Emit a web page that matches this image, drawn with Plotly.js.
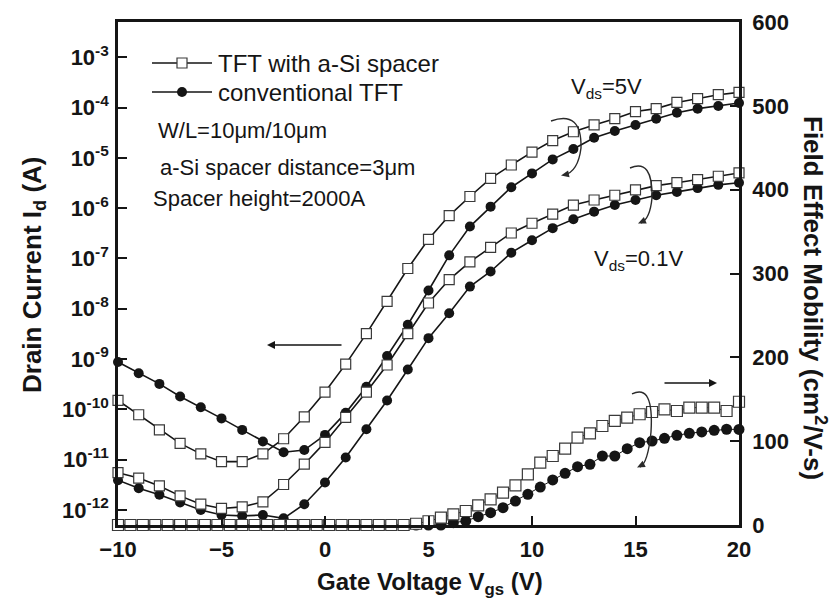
<!DOCTYPE html>
<html><head><meta charset="utf-8">
<script src="https://cdn.plot.ly/plotly-3.0.1.min.js"></script>
<style>html,body{margin:0;padding:0;background:#fff}</style>
</head><body><div id="chart" style="width:833px;height:607px"></div>
<script>
// Gate voltage grid for drain-current curves (V)
const vgsId = [-10,-9,-8,-7,-6,-5,-4,-3,-2,-1,0,1,2,3,4,5,6,7,8,9,10,11,12,13,14,15,16,17,18,19,20];
// Drain current (A), TFT with a-Si spacer, Vds = 5 V
const idSpacer5V = [1.5e-10,7.8e-11,3.9e-11,2.1e-11,1.3e-11,9.1e-12,9.1e-12,1.3e-11,2.6e-11,7.1e-11,2.2e-10,7.9e-10,3.2e-9,1.4e-8,6.3e-8,2.4e-7,7.1e-7,1.7e-6,3.9e-6,7.2e-6,1.3e-5,2.2e-5,3.3e-5,4.5e-5,6.0e-5,8.3e-5,9.5e-5,1.26e-4,1.5e-4,1.8e-4,2.0e-4];
// Drain current (A), conventional TFT, Vds = 5 V
const idConv5V = [8.7e-10,5.2e-10,3.2e-10,1.8e-10,1.1e-10,6.6e-11,3.9e-11,2.3e-11,1.4e-11,1.55e-11,3.1e-11,8.5e-11,2.8e-10,1.15e-9,4.8e-9,2.3e-8,1.15e-7,4.3e-7,1.07e-6,2.6e-6,4.9e-6,9.3e-6,1.5e-5,2.5e-5,3.4e-5,4.5e-5,6.0e-5,7.9e-5,9.5e-5,1.07e-4,1.23e-4];
// Drain current (A), TFT with a-Si spacer, Vds = 0.1 V
const idSpacer01V = [5.5e-12,4.3e-12,3.0e-12,1.9e-12,1.3e-12,1.07e-12,1.15e-12,1.45e-12,3.2e-12,8.1e-12,2.2e-11,6.9e-11,2.2e-10,7.6e-10,3.2e-9,1.3e-8,3.8e-8,8.5e-8,1.66e-7,3.2e-7,5.0e-7,7.6e-7,1.15e-6,1.45e-6,1.8e-6,2.3e-6,2.8e-6,3.2e-6,3.7e-6,4.3e-6,5.0e-6];
// Drain current (A), conventional TFT, Vds = 0.1 V
const idConv01V = [3.9e-12,2.7e-12,2.0e-12,1.4e-12,1.0e-12,7.9e-13,7.6e-13,7.9e-13,6.8e-13,1.3e-12,3.5e-12,1.1e-11,4.0e-11,1.5e-10,6.2e-10,2.6e-9,8.1e-9,2.75e-8,5.5e-8,1.3e-7,2.3e-7,4.0e-7,6.0e-7,8.5e-7,1.15e-6,1.45e-6,1.8e-6,2.1e-6,2.5e-6,2.9e-6,3.2e-6];

// Gate voltage grid for mobility curves (V)
const vgsMob = [-10,-9.4,-8.8,-8.2,-7.6,-7,-6.4,-5.8,-5.2,-4.6,-4,-3.4,-2.8,-2.2,-1.6,-1,-0.4,0.2,0.8,1.4,2,2.6,3.2,3.8,4.4,5,5.6,6.2,6.8,7.4,8,8.6,9.2,9.8,10.4,11,11.6,12.2,12.8,13.4,14,14.6,15.2,15.8,16.4,17,17.6,18.2,18.8,19.4,20];
// Field effect mobility (cm2/V-s)
const mobSpacer = [0,0,0,0,0,0,0,0,0,0,0,0,0,0,0,0,0,0,0,0,0,0,0,0,1.5,4.5,8.8,12.7,16.7,23.5,30.6,38.6,47.3,60.5,74.4,82.3,91.1,104.2,109.4,118.1,124.1,128.1,132.1,134.8,138,136,140,140,140,136,147];
const mobConv = [0,0,0,0,0,0,0,0,0,0,0,0,0,0,0,0,0,0,0,0,0,0,0,0,0,0,0,2.8,4.8,9.9,14.7,20.7,28.6,36.6,45.3,53.7,61.7,69.6,72.4,82.3,82.3,91.1,98.2,100.2,103.4,107,109.4,111,113,114.2,114];

// Axis ticks
const xTicks = [-10,-5,0,5,10,15,20];
const yTickVals = [1e-12,1e-11,1e-10,1e-9,1e-8,1e-7,1e-6,1e-5,1e-4,1e-3];
const yTickText = ['10<sup>-12</sup>','10<sup>-11</sup>','10<sup>-10</sup>','10<sup>-9</sup>','10<sup>-8</sup>','10<sup>-7</sup>','10<sup>-6</sup>','10<sup>-5</sup>','10<sup>-4</sup>','10<sup>-3</sup>'];
const y2Ticks = [0,100,200,300,400,500,600];

const seriesNames = ['TFT with a-Si spacer','conventional TFT'];

// ---- layout geometry (pixels) ----
const W = 833, H = 607;
const PL = 118, PR = 739, PT = 22, PB = 525;
const fx = x => (x - PL) / (PR - PL);
const fy = y => (PB - y) / (PB - PT);
const P = (x, y) => fx(x).toFixed(5) + ',' + fy(y).toFixed(5);

const FONT = 'Liberation Sans, Arial, Helvetica, sans-serif';
const INK = '#151515';

const sq = {symbol:'square', size:10, color:'#ffffff', line:{color:'#3a3a3a', width:1.2}};
const ci = {symbol:'circle', size:10, color:INK, line:{color:INK, width:0}};
const ln = {color:INK, width:1.6};

const traces = [
  {x:vgsId, y:idConv5V, mode:'lines+markers', line:ln, marker:ci, cliponaxis:false, name:seriesNames[1]},
  {x:vgsId, y:idSpacer5V, mode:'lines+markers', line:ln, marker:sq, cliponaxis:false, name:seriesNames[0]},
  {x:vgsId, y:idConv01V, mode:'lines+markers', line:ln, marker:ci, cliponaxis:false, name:seriesNames[1]},
  {x:vgsId, y:idSpacer01V, mode:'lines+markers', line:ln, marker:sq, cliponaxis:false, name:seriesNames[0]},
  {x:vgsMob, y:mobConv, yaxis:'y2', mode:'lines+markers', line:{color:INK,width:1}, marker:Object.assign({}, ci, {size:11}), cliponaxis:false, name:seriesNames[1]},
  {x:vgsMob, y:mobSpacer, yaxis:'y2', mode:'lines+markers', line:{color:INK,width:1}, marker:Object.assign({}, sq, {size:11}), cliponaxis:false, name:seriesNames[0]}
];

const tickFont = {family:FONT, size:22, weight:'bold', color:INK};
const axCommon = {showgrid:false, zeroline:false, showline:true, linecolor:INK, linewidth:2.6,
  ticks:'inside', ticklen:9, tickwidth:2.4, tickcolor:INK, tickfont:tickFont, automargin:false};

// arrowhead helper (filled triangle) in pixel space -> paper path
function head(tx, ty, dx, dy, len, hw) {
  const n = Math.hypot(dx, dy); const ux = dx / n, uy = dy / n;
  const bx = tx - ux * len, by = ty - uy * len;
  const px = -uy * hw, py = ux * hw;
  return 'M' + P(tx, ty) + 'L' + P(bx + px, by + py) + 'L' + P(bx - px, by - py) + 'Z';
}
function curl(x0, y0, c1x, c1y, mx, my, c2x, c2y, ex, ey) {
  return 'M' + P(x0, y0) + ' Q' + P(c1x, c1y) + ' ' + P(mx, my) + ' Q' + P(c2x, c2y) + ' ' + P(ex, ey);
}
const shapes = [];
const arcLine = {color:'#2a2a2a', width:1.4};
// curly arrows
[[551,121, 582,110, 581,148, 578,172, 564,175],
 [630,168, 653,158, 652,198, 650,219, 641,223],
 [632,394, 654,383, 651,432, 648,463, 640,467]].forEach(a => {
  shapes.push({type:'path', xref:'paper', yref:'paper', path:curl(...a), line:arcLine});
  const ex = a[8], ey = a[9], dx = a[8] - a[6], dy = a[9] - a[7];
  shapes.push({type:'path', xref:'paper', yref:'paper', path:head(ex - 3, ey + 0.5, dx, dy, 8, 3.5), fillcolor:'#2a2a2a', line:{width:0}});
});
// legend symbols
shapes.push({type:'line', xref:'paper', yref:'paper', x0:fx(152), x1:fx(212), y0:fy(63), y1:fy(63), line:{color:INK,width:1.6}});
shapes.push({type:'rect', xref:'paper', yref:'paper', x0:fx(177), x1:fx(187), y0:fy(58), y1:fy(68), fillcolor:'#fff', line:{color:'#3a3a3a',width:1.2}});
shapes.push({type:'line', xref:'paper', yref:'paper', x0:fx(152), x1:fx(212), y0:fy(92), y1:fy(92), line:{color:INK,width:1.6}});
shapes.push({type:'circle', xref:'paper', yref:'paper', x0:fx(177), x1:fx(187), y0:fy(87), y1:fy(97), fillcolor:INK, line:{color:INK,width:0}});

const txt = (text, x, y, size, extra) => Object.assign({
  text, xref:'paper', yref:'paper', x:fx(x), y:fy(y), xanchor:'left', yanchor:'middle',
  showarrow:false, font:{family:FONT, size, color:INK}
}, extra || {});
const bold = size => ({family:FONT, size, weight:'bold', color:INK});

const annotations = [
  txt(seriesNames[0], 216, 63, 24),
  txt(seriesNames[1], 216, 92, 24),
  txt('W/L=10μm/10μm', 156, 130, 22),
  txt('a-Si spacer distance=3μm', 158, 167, 22),
  txt('Spacer height=2000A', 151, 198, 22),
  txt('V<sub>ds</sub>=5V', 569, 88, 22),
  txt('V<sub>ds</sub>=0.1V', 592, 260, 22),
  // axis titles
  txt('Drain Current I<sub>d</sub> (A)', 33, 275, 26, {xanchor:'center', textangle:-90, font:bold(26)}),
  txt('Field Effect Mobility (cm<sup>2</sup>/V-s)', 815, 298, 26, {xanchor:'center', textangle:90, font:bold(26)}),
  txt('Gate Voltage V<sub>gs</sub> (V)', 430, 583, 24, {xanchor:'center', font:bold(24)}),
  // straight arrows
  {xref:'paper', yref:'paper', x:fx(267), y:fy(345), ax:76, ay:0, text:'', showarrow:true, arrowhead:2, arrowsize:1, arrowwidth:1.6, arrowcolor:INK},
  {xref:'paper', yref:'paper', x:fx(717), y:fy(383), ax:-54, ay:0, text:'', showarrow:true, arrowhead:2, arrowsize:1, arrowwidth:1.6, arrowcolor:INK}
];

const layout = {
  width:W, height:H, showlegend:false,
  paper_bgcolor:'#fff', plot_bgcolor:'#fff',
  font:{family:FONT, size:22, color:INK},
  margin:{l:PL, r:W-PR, t:PT, b:H-PB, pad:0},
  xaxis:Object.assign({}, axCommon, {range:[-10,20], tickvals:xTicks, mirror:true, ticklabelstandoff:3}),
  yaxis:Object.assign({}, axCommon, {type:'log', range:[-12.3,-2.3], tickvals:yTickVals, ticktext:yTickText, ticklabelstandoff:2}),
  yaxis2:Object.assign({}, axCommon, {overlaying:'y', side:'right', range:[0,600], tickvals:y2Ticks, ticklabelstandoff:6}),
  shapes, annotations
};

Plotly.newPlot('chart', traces, layout, {displayModeBar:false});
</script>
</body></html>
